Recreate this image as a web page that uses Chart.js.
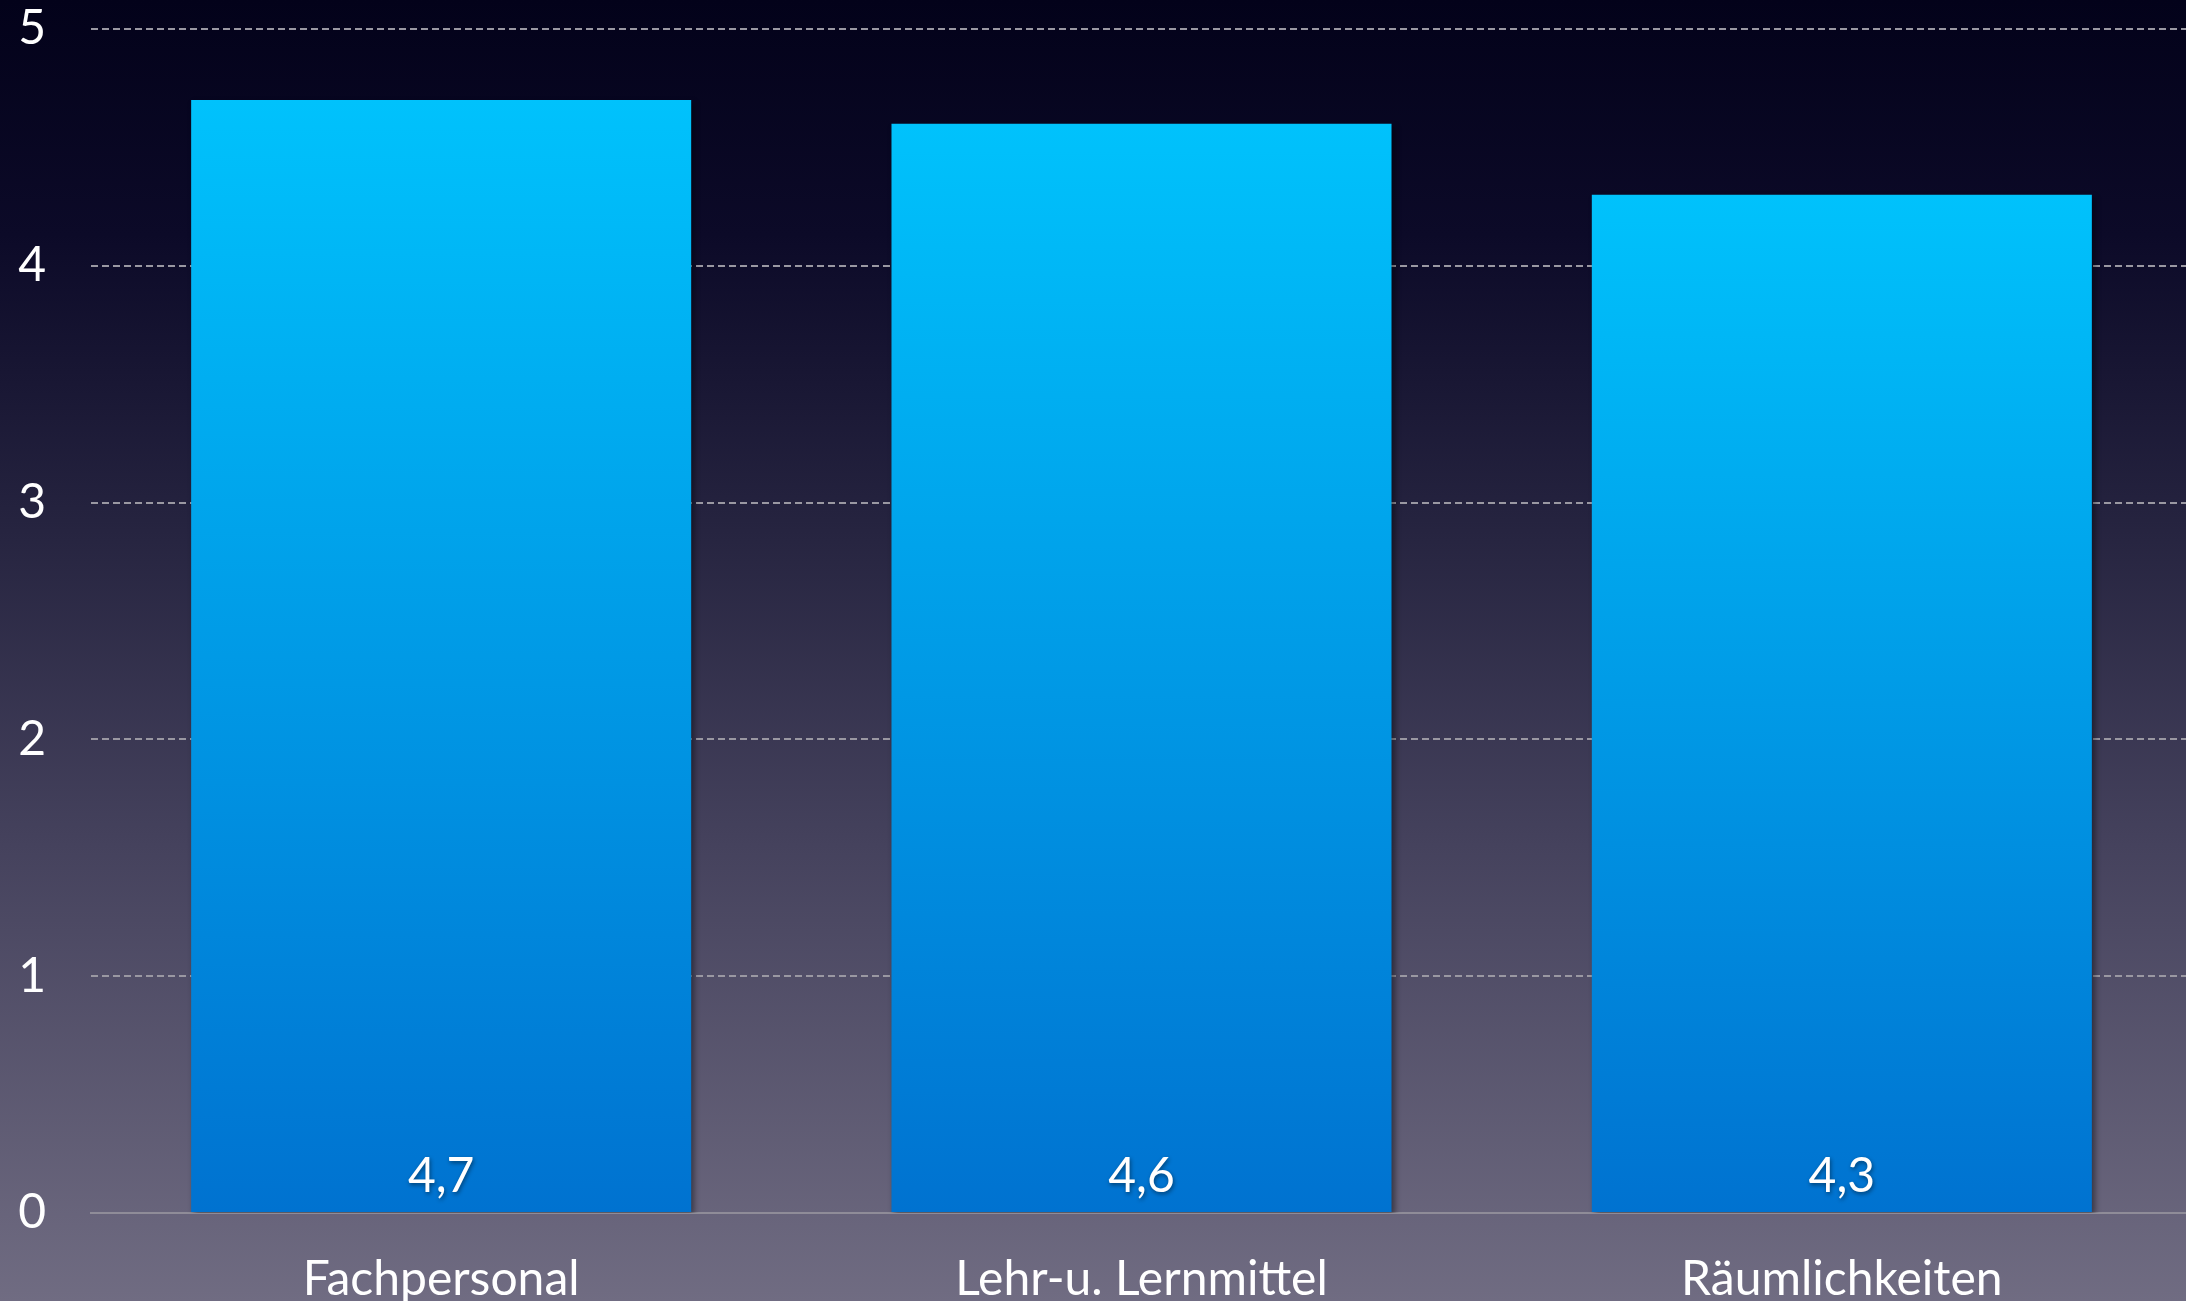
<!DOCTYPE html>
<html>
<head>
<meta charset="utf-8">
<script src="https://cdn.jsdelivr.net/npm/chart.js@4/dist/chart.umd.min.js"></script>
<style>
  html, body { margin: 0; padding: 0; overflow: hidden; }
  body { width: 2186px; height: 1301px; }
  #wrap {
    position: absolute; left: 0; top: 0;
    width: 2192px; height: 1301px;
    background: linear-gradient(to bottom, #03021a 0%, #0c0a28 18%, #25233f 40%, #45425d 65%, #706c82 100%);
  }
  canvas { display: block; }
</style>
</head>
<body>
<div id="wrap"><canvas id="c" width="2192" height="1301"></canvas></div>
<script>
const categories = ['Fachpersonal', 'Lehr-u. Lernmittel', 'Räumlichkeiten'];
const values = [4.7, 4.6, 4.3];
const valueLabels = ['4,7', '4,6', '4,3'];
const yMin = 0;
const yMax = 5;
const yStep = 1;

const FONT = 'Lato';

function barGradient(context) {
  const chart = context.chart;
  const ca = chart.chartArea;
  if (!ca) return '#00a0e6';
  const ys = chart.scales.y;
  const v = context.raw;
  const top = ys.getPixelForValue(v);
  const bottom = ys.getPixelForValue(0);
  const g = chart.ctx.createLinearGradient(0, top, 0, bottom);
  g.addColorStop(0, '#00c2fc');
  g.addColorStop(1, '#0072d0');
  return g;
}

const shadowPlugin = {
  id: 'barShadow',
  beforeDatasetsDraw(chart) {
    const ctx = chart.ctx;
    ctx.save();
    ctx.shadowColor = 'rgba(0,0,0,0.45)';
    ctx.shadowBlur = 6;
    ctx.shadowOffsetX = 3;
    ctx.shadowOffsetY = 3;
  },
  afterDatasetsDraw(chart) {
    const ctx = chart.ctx;
    ctx.restore();
    const meta = chart.getDatasetMeta(0);
    const y0 = chart.scales.y.getPixelForValue(0);
    ctx.save();
    ctx.font = '48px ' + FONT;
    ctx.fillStyle = '#ffffff';
    ctx.textAlign = 'center';
    ctx.textBaseline = 'alphabetic';
    ctx.shadowColor = 'rgba(0,0,0,0.45)';
    ctx.shadowBlur = 4;
    ctx.shadowOffsetX = 1;
    ctx.shadowOffsetY = 2;
    meta.data.forEach((bar, i) => {
      ctx.fillText(valueLabels[i], bar.x, y0 - 21);
    });
    ctx.restore();
  }
};

new Chart(document.getElementById('c'), {
  type: 'bar',
  data: {
    labels: categories,
    datasets: [{
      data: values,
      backgroundColor: barGradient,
      borderWidth: 0,
      categoryPercentage: 1,
      barPercentage: 0.714
    }]
  },
  options: {
    responsive: false,
    animation: false,
    events: [],
    layout: { padding: 0 },
    plugins: {
      legend: { display: false },
      tooltip: { enabled: false }
    },
    scales: {
      x: {
        grid: { display: false },
        border: { display: true, color: '#8f8c98', width: 2 },
        ticks: {
          color: '#ffffff',
          font: { family: FONT, size: 48 },
          padding: 30,
          maxRotation: 0
        },
        afterFit(s) { s.height = 88; s.paddingLeft = 0; s.paddingRight = 0; }
      },
      y: {
        min: yMin,
        max: yMax,
        ticks: {
          stepSize: yStep,
          color: '#ffffff',
          font: { family: FONT, size: 48 },
          padding: 45
        },
        grid: {
          drawTicks: false,
          lineWidth: 2,
          color: (c) => (c.tick && c.tick.value === 0) ? 'rgba(0,0,0,0)' : '#9a98a2'
        },
        border: { display: false, dash: [7, 4] },
        afterFit(s) { s.width = 91; s.paddingTop = 29; s.paddingBottom = 0; }
      }
    }
  },
  plugins: [shadowPlugin]
});
</script>
</body>
</html>
